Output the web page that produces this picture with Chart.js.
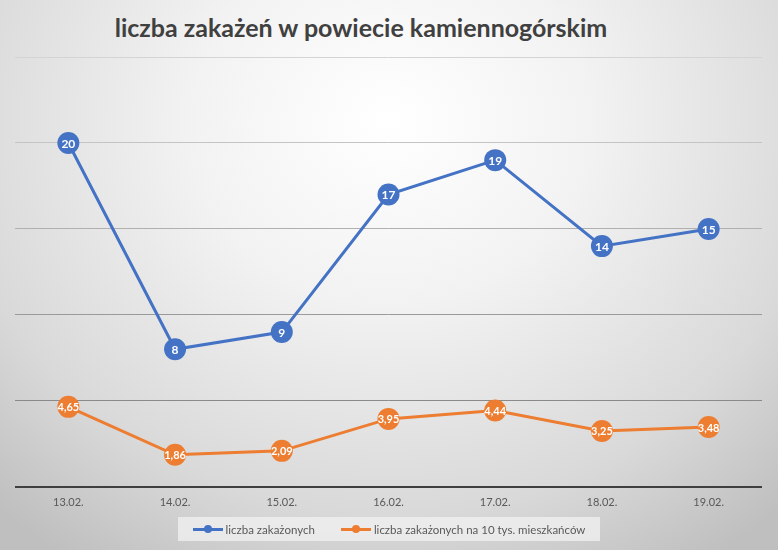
<!DOCTYPE html>
<html>
<head>
<meta charset="utf-8">
<script src="https://cdn.jsdelivr.net/npm/chart.js@4"></script>
<style>
  html, body { margin: 0; padding: 0; }
  #wrap {
    position: relative;
    width: 778px;
    height: 550px;
    background: radial-gradient(ellipse 75% 95% at 50% 22%, #ffffff 0%, #f2f2f2 35%, #d9d9d9 75%, #bfbfbf 100%);
    font-family: Lato, "Open Sans", sans-serif;
  }
  #title {
    position: absolute;
    left: 0; right: 56px; top: 12px;
    text-align: center;
    font-size: 25px;
    font-weight: bold;
    color: #404040;
    line-height: 30px;
  }
  #legend {
    position: absolute;
    left: 178px; top: 517px;
    width: 422px; height: 24px;
    background: rgba(242, 242, 242, 0.75);
    display: flex;
    align-items: center;
    justify-content: center;
    gap: 26px;
    font-size: 11.5px;
    color: #595959;
  }
  .item { display: flex; align-items: center; }
  .sym { position: relative; width: 30px; height: 3px; margin-right: 3px; }
  .sym i { position: absolute; left: 11px; top: -2.5px; width: 8px; height: 8px; border-radius: 50%; }
  canvas { position: absolute; left: 0; top: 0; }
</style>
</head>
<body>
<div id="wrap">
  <div id="title">liczba zakażeń w powiecie kamiennogórskim</div>
  <canvas id="chart" width="778" height="550"></canvas>
  <div id="legend"></div>
</div>
<script>
const categories = ["13.02.", "14.02.", "15.02.", "16.02.", "17.02.", "18.02.", "19.02."];
const infected = [20, 8, 9, 17, 19, 14, 15];
const infectedPer10k = [4.65, 1.86, 2.09, 3.95, 4.44, 3.25, 3.48];
const seriesNames = ["liczba zakażonych", "liczba zakażonych na 10 tys. mieszkańców"];
const seriesColors = ["#4472C4", "#ED7D31"];

// value labels drawn in the middle of each marker
const pointLabels = {
    id: "pointLabels",
    afterDatasetsDraw(chart) {
        const ctx = chart.ctx;
        ctx.save();
        ctx.fillStyle = "#ffffff";
        ctx.textAlign = "center";
        ctx.textBaseline = "middle";
        chart.data.datasets.forEach((ds, i) => {
            ctx.font = i === 0 ? "bold 12px Lato, sans-serif" : "bold 11px Lato, sans-serif";
            chart.getDatasetMeta(i).data.forEach((pt, j) => {
                const txt = String(ds.data[j]).replace(".", ",");
                ctx.fillText(txt, pt.x, pt.y + 1);
            });
        });
        ctx.restore();
    }
};

const gridColors = ["#3f3f3f", "#8a8a8a", "#9a9a9a", "#b0b0b0", "#c4c4c4", "#d4d4d4"];

const chart = new Chart(document.getElementById("chart"), {
    type: "line",
    data: {
        labels: categories,
        datasets: [
            {
                label: seriesNames[0],
                data: infected,
                borderColor: seriesColors[0],
                backgroundColor: seriesColors[0],
                borderWidth: 3,
                pointRadius: 11,
                pointHoverRadius: 11,
                pointBorderWidth: 0,
                tension: 0
            },
            {
                label: seriesNames[1],
                data: infectedPer10k,
                borderColor: seriesColors[1],
                backgroundColor: seriesColors[1],
                borderWidth: 3,
                pointRadius: 11,
                pointHoverRadius: 11,
                pointBorderWidth: 0,
                tension: 0
            }
        ]
    },
    options: {
        responsive: false,
        animation: false,
        layout: {
            padding: { left: 15, right: 16, top: 57, bottom: 32 }
        },
        plugins: {
            legend: { display: false },
            tooltip: { enabled: false }
        },
        scales: {
            x: {
                offset: true,
                grid: { display: false, drawTicks: false },
                border: { display: false },
                ticks: {
                    color: "#595959",
                    font: { size: 11, family: "Lato, 'Open Sans', sans-serif" },
                    padding: 9
                }
            },
            y: {
                min: 0,
                max: 25,
                ticks: { display: false, stepSize: 5 },
                border: { display: false },
                grid: {
                    drawTicks: false,
                    color: c => gridColors[c.index] || "#bbbbbb",
                    lineWidth: c => c.index === 0 ? 2 : 1
                }
            }
        }
    },
    plugins: [pointLabels]
});

// legend in the Excel style
const legend = document.getElementById("legend");
seriesNames.forEach((name, i) => {
    const item = document.createElement("div");
    item.className = "item";
    item.innerHTML = '<span class="sym" style="background:' + seriesColors[i] + '"><i style="background:' + seriesColors[i] + '"></i></span>' + name;
    legend.appendChild(item);
});
</script>
</body>
</html>
